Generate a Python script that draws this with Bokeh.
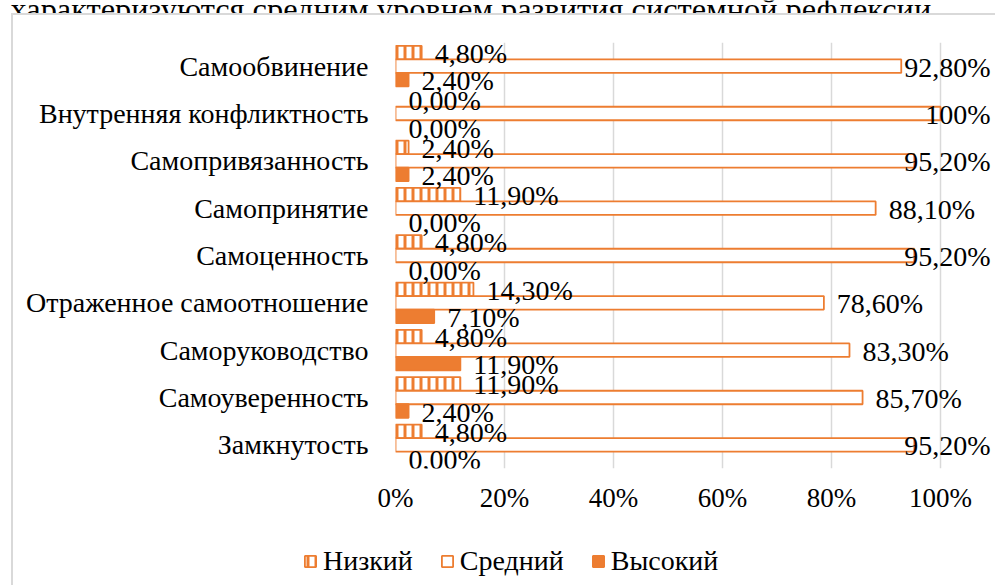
from bokeh.plotting import figure
from bokeh.layouts import column
from bokeh.models import (ColumnDataSource, FactorRange, Range1d, LabelSet, Legend, LegendItem,
                          FixedTicker, Label, InlineStyleSheet)
from bokeh.transform import dodge
from bokeh.core.properties import value
from bokeh.embed import file_html
from bokeh.resources import INLINE

# ---------------- data ----------------
categories = ["Самообвинение", "Внутренняя конфликтность", "Самопривязанность", "Самопринятие",
              "Самоценность", "Отраженное самоотношение", "Саморуководство", "Самоуверенность",
              "Замкнутость"]
low = [4.8, 0.0, 2.4, 11.9, 4.8, 14.3, 4.8, 11.9, 4.8]
mid = [92.8, 100.0, 95.2, 88.1, 95.2, 78.6, 83.3, 85.7, 95.2]
high = [2.4, 0.0, 2.4, 0.0, 0.0, 7.1, 11.9, 2.4, 0.0]
series_names = ["Низкий", "Средний", "Высокий"]
x_ticks = [0, 20, 40, 60, 80, 100]
x_tick_labels = ["0%", "20%", "40%", "60%", "80%", "100%"]
top_text = "характеризуются средним уровнем развития системной рефлексии."

# ---------------- style / layout ----------------
ORANGE = "#ED7D31"
GRID = "#D9D9D9"
FONT = "Liberation Serif"
FS = "28px"
OFF = 0.286
BH = 0.286
W = 995
H_TOP, H_MAIN, H_LEG = 13, 507, 65
FRAME_L, FRAME_R100 = 395, 940          # pixel positions of 0% and 100%
FRAME_T, FRAME_B = 29, 455              # inside the main figure
x_end = 100 + (W - FRAME_R100) * 100.0 / (FRAME_R100 - FRAME_L)

def border_css(top):
    css = ":host { position: relative; } :host::after { content: ''; position: absolute;" \
          " left: 11px; top: 0; right: 0; bottom: 0; pointer-events: none;" \
          " border-left: 2px solid #D9D9D9;"
    if top:
        css += " border-top: 2px solid #D9D9D9;"
    return [InlineStyleSheet(css=css + " }")]

def no_align(fig):
    try:
        fig.frame_align = False
    except Exception:
        pass

def fmt(v):
    if v == 100:
        return "100%"
    return f"{v:.2f}".replace(".", ",") + "%"

# ---- heading line of the surrounding document (cut by the page's top edge) ----
top = figure(width=W, height=H_TOP, output_backend="svg", toolbar_location=None,
             x_axis_location=None, y_axis_location=None, x_range=Range1d(0, 1),
             y_range=Range1d(0, 1), min_border=0)
top.outline_line_color = None
top.xgrid.visible = False
top.ygrid.visible = False
no_align(top)
top.add_layout(Label(x=10, y=5, x_units="screen", y_units="screen", text=top_text,
                     text_font=FONT, text_font_size="32.4px", text_color="black",
                     text_baseline="alphabetic", text_align="left"))

# ---- main chart ----
p = figure(width=W, height=H_MAIN, output_backend="svg", toolbar_location=None,
           y_range=FactorRange(factors=list(reversed(categories)), range_padding=0),
           x_range=Range1d(0, x_end),
           min_border_left=FRAME_L, min_border_right=0, min_border_top=FRAME_T,
           min_border_bottom=H_MAIN - FRAME_B)
p.outline_line_color = None
p.background_fill_color = "white"
p.border_fill_color = "white"
p.stylesheets = border_css(True)
no_align(p)

series = [low, mid, high]
offsets = [OFF, 0.0, -OFF]
styles = [
    dict(fill_color="white", line_color=ORANGE, hatch_pattern="vertical_line",
         hatch_color=ORANGE, hatch_weight=3, hatch_scale=8),
    dict(fill_color="white", line_color=ORANGE),
    dict(fill_color=ORANGE, line_color=ORANGE),
]

for vals, off, st in zip(series, offsets, styles):
    cats_nz = [c for c, v in zip(categories, vals) if v > 0]
    vals_nz = [v for v in vals if v > 0]
    src = ColumnDataSource(dict(cat=cats_nz, v=vals_nz))
    p.hbar(y=dodge("cat", off, range=p.y_range), left=0, right="v", height=BH,
           line_width=1.8, source=src, **st)

    # labels (those that would run past the chart edge are pushed back inside it)
    norm = [(c, v) for c, v in zip(categories, vals) if v < 90]
    far = [(c, v) for c, v in zip(categories, vals) if v >= 90]
    if norm:
        s1 = ColumnDataSource(dict(cat=[c for c, _ in norm], v=[v for _, v in norm],
                                   lbl=[fmt(v) for _, v in norm]))
        p.add_layout(LabelSet(x="v", y=dodge("cat", off, range=p.y_range), text="lbl",
                              source=s1, x_offset=13, y_offset=-1, text_align="left",
                              text_baseline="middle", text_font=value(FONT),
                              text_font_size=value(FS), text_color="black"))
    if far:
        s2 = ColumnDataSource(dict(cat=[c for c, _ in far], x=[100] * len(far),
                                   lbl=[fmt(v) for _, v in far]))
        p.add_layout(LabelSet(x="x", y=dodge("cat", off, range=p.y_range), text="lbl",
                              source=s2, x_offset=50, y_offset=-1, text_align="right",
                              text_baseline="middle", text_font=value(FONT),
                              text_font_size=value(FS), text_color="black"))

p.xaxis.ticker = FixedTicker(ticks=x_ticks)
p.xaxis.major_label_overrides = {t: l for t, l in zip(x_ticks, x_tick_labels)}
p.xaxis.axis_line_color = None
p.xaxis.major_tick_line_color = None
p.xaxis.minor_tick_line_color = None
p.xaxis.major_label_standoff = 8
p.xaxis.major_label_text_font = FONT
p.xaxis.major_label_text_font_size = "27px"
p.xaxis.major_label_text_color = "black"

p.yaxis.axis_line_color = None
p.yaxis.major_tick_line_color = None
p.yaxis.minor_tick_line_color = None
p.yaxis.major_label_standoff = 21
p.yaxis.major_label_text_font = FONT
p.yaxis.major_label_text_font_size = FS
p.yaxis.major_label_text_color = "black"

p.xgrid.ticker = FixedTicker(ticks=x_ticks)
p.xgrid.grid_line_color = GRID
p.xgrid.grid_line_width = 1.5
p.ygrid.grid_line_color = None

# ---- legend strip ----
lg = figure(width=W, height=H_LEG, output_backend="svg", toolbar_location=None,
            x_axis_location=None, y_axis_location=None, x_range=Range1d(0, 1),
            y_range=Range1d(0, 1), min_border=0)
lg.outline_line_color = None
lg.xgrid.visible = False
lg.ygrid.visible = False
lg.stylesheets = border_css(False)
no_align(lg)
# hidden key glyphs: they only give the legend its swatches
keys = []
for st in styles:
    k = lg.hbar(y=[-5], right=[-4], left=-5, height=0.5, line_width=1.8, **st)
    k.visible = False
    keys.append(k)
legend = Legend(items=[LegendItem(label=n, renderers=[r]) for n, r in zip(series_names, keys)],
                orientation="horizontal", location=(303, 8),
                label_text_font=FONT, label_text_font_size=FS, label_text_color="black",
                glyph_width=14, glyph_height=14, label_standoff=6, spacing=27,
                padding=0, margin=0, background_fill_alpha=0, border_line_color=None,
                inactive_fill_alpha=0)
lg.add_layout(legend, "center")

layout = column(top, p, lg, spacing=0)
open("out.html", "w").write(file_html(layout, INLINE))
